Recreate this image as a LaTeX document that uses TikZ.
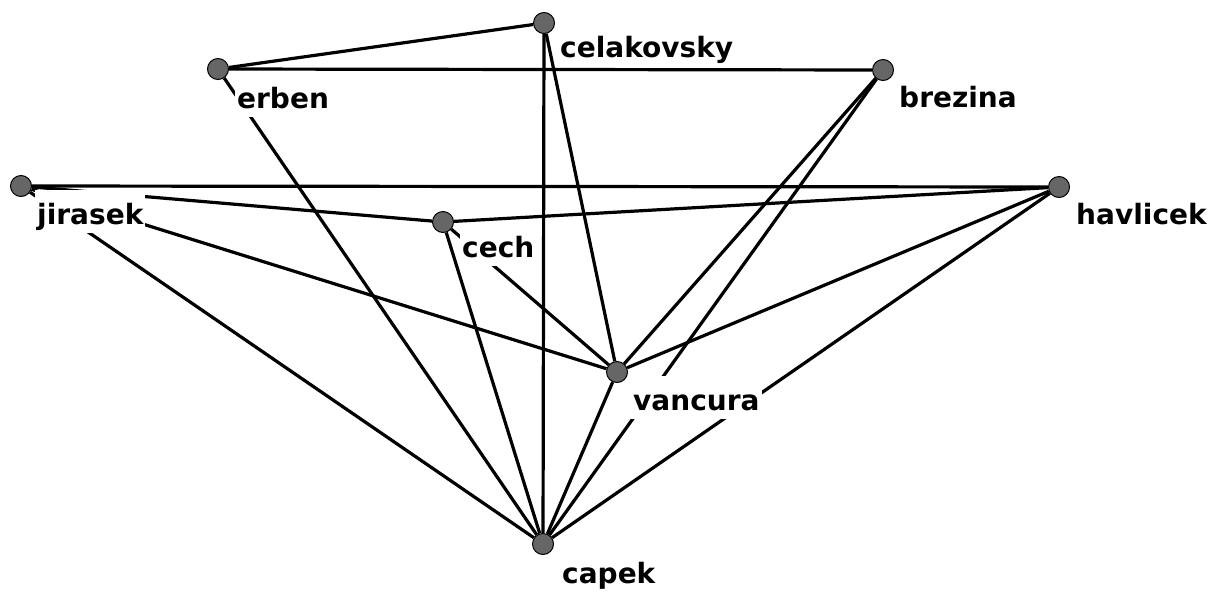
\documentclass[tikz,border=0pt]{standalone}
\usepackage{fontspec}
\setmainfont{DejaVu Sans}
\begin{document}
\begin{tikzpicture}[x=1pt,y=-1pt,
  vert/.style={circle,draw=black,line width=1pt,fill=black!60,minimum size=21pt,inner sep=0pt},
  edge/.style={line width=3.2pt,black},
  vlabel/.style={anchor=base west,fill=white,inner sep=2pt,text height=32pt,text depth=7pt,
    font=\bfseries\fontsize{28}{34}\selectfont}]
\useasboundingbox (0,0) rectangle (1217,592);

% vertices
\node[vert] (celakovsky) at (544,23) {};
\node[vert] (erben)      at (218,69) {};
\node[vert] (brezina)    at (883,70) {};
\node[vert] (jirasek)    at (21,186) {};
\node[vert] (havlicek)   at (1059,187) {};
\node[vert] (cech)       at (443,222) {};
\node[vert] (vancura)    at (617,372) {};
\node[vert] (capek)      at (543,544) {};

% edges
\draw[edge] (celakovsky) -- (erben);
\draw[edge] (erben) -- (brezina);
\draw[edge] (celakovsky) -- (capek);
\draw[edge] (celakovsky) -- (vancura);
\draw[edge] (jirasek) -- (havlicek);
\draw[edge] (jirasek) -- (cech);
\draw[edge] (cech) -- (havlicek);
\draw[edge] (jirasek) -- (vancura);
\draw[edge] (jirasek) -- (capek);
\draw[edge] (erben) -- (capek);
\draw[edge] (cech) -- (capek);
\draw[edge] (cech) -- (vancura);
\draw[edge] (brezina) -- (vancura);
\draw[edge] (brezina) -- (capek);
\draw[edge] (havlicek) -- (vancura);
\draw[edge] (havlicek) -- (capek);
\draw[edge] (vancura) -- (capek);

% names, set over the edges
\node[vlabel] (celakovsky-name) at (558,57)  {celakovsky};
\node[vlabel] (erben-name)      at (235,108) {erben};
\node[vlabel] (brezina-name)    at (897,107) {brezina};
\node[vlabel] (jirasek-name)    at (35,224)  {jirasek};
\node[vlabel] (havlicek-name)   at (1074,224) {havlicek};
\node[vlabel] (cech-name)       at (460,257) {cech};
\node[vlabel] (vancura-name)    at (631,410) {vancura};
\node[vlabel] (capek-name)      at (560,583) {capek};
\end{tikzpicture}
\end{document}
